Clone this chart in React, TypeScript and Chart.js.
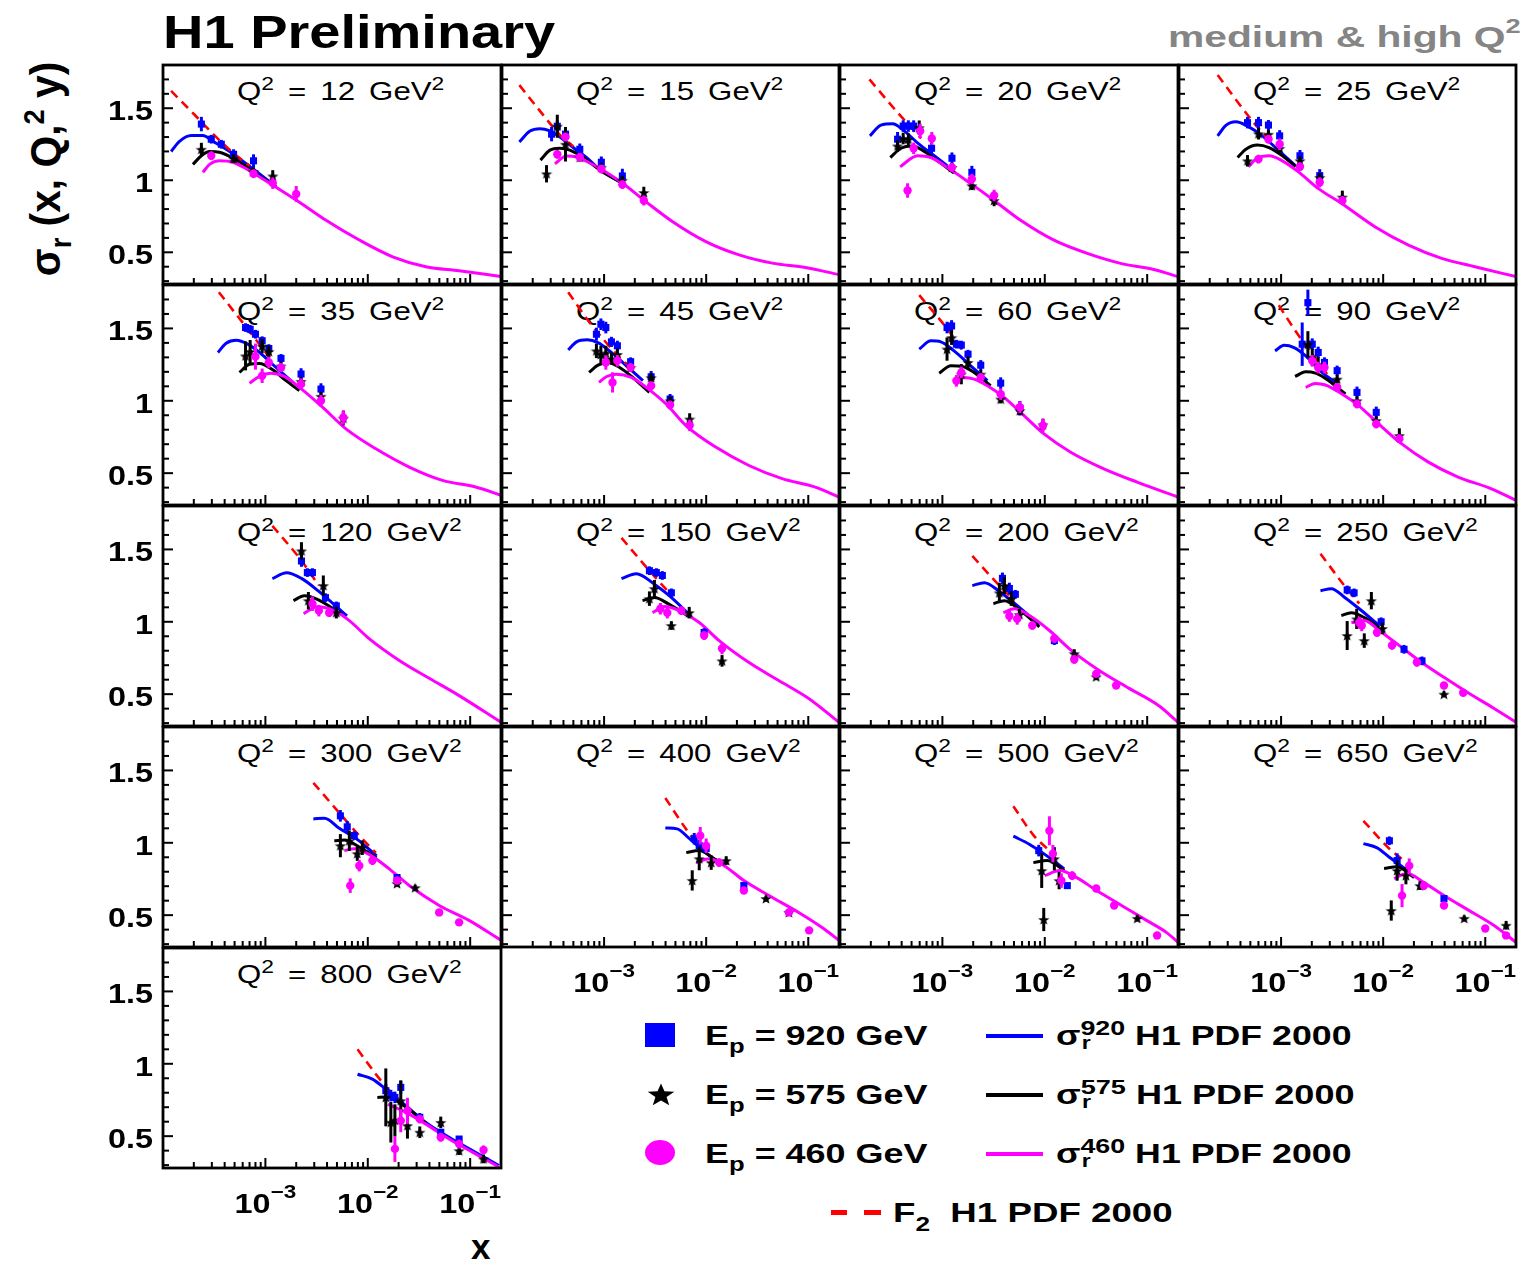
import React, { useEffect, useLayoutEffect, useRef } from "react";
import { Chart, registerables } from "chart.js";

Chart.register(...registerables);

const FONT = "'Liberation Sans', Arial, Helvetica, sans-serif";
const BLUE = "#0000ff";
const BLACK = "#000000";
const MAGENTA = "#ff00ff";
const RED = "#ff0000";

// ---------------- axes ----------------
const X_MIN = 1e-4;
const X_MAX = 0.2;
const Y_MIN = 0.28;
const Y_MAX = 1.8;
const yLabelValues = [0.5, 1, 1.5];
const yLabelTexts = ["0.5", "1", "1.5"];
const yMinorTicks = [0.3, 0.4, 0.6, 0.7, 0.8, 0.9, 1.1, 1.2, 1.3, 1.4, 1.6, 1.7];
const xMajorTicks = [1e-4, 1e-3, 1e-2, 1e-1];
const xMinorMultipliers = [2, 3, 4, 5, 6, 7, 8, 9];
const xLabelValues = [1e-3, 1e-2, 1e-1];
const xLabelExps = ["\u22123", "\u22122", "\u22121"];

const q2Values = [12, 15, 20, 25, 35, 45, 60, 90, 120, 150, 200, 250, 300, 400, 500, 650, 800];

// ---------------- curves: [x, sigma] ----------------
// F2 (red dashed), sigma_r 920 (blue), 575 (black), 460 (magenta)
const f2_12 = [[1.2e-4, 1.62], [2.0e-4, 1.46], [3.0e-4, 1.33], [4.5e-4, 1.21], [7.0e-4, 1.1]];
const s920_12 = [[1.2e-4, 1.2], [1.45e-4, 1.27], [1.89e-4, 1.31], [2.45e-4, 1.31], [3.07e-4, 1.27], [4.14e-4, 1.215], [5.58e-4, 1.15], [7.53e-4, 1.08], [1.27e-3, 0.955]];
const s575_12 = [[1.96e-4, 1.11], [2.37e-4, 1.17], [2.85e-4, 1.2], [3.56e-4, 1.195], [4.81e-4, 1.155], [6.49e-4, 1.095], [8.75e-4, 1.03], [1.27e-3, 0.953]];
const s460_12 = [[2.45e-4, 1.055], [2.85e-4, 1.11], [3.56e-4, 1.135], [4.81e-4, 1.125], [6.49e-4, 1.08], [8.75e-4, 1.025], [1.27e-3, 0.952], [2.15e-3, 0.848], [3.91e-3, 0.722], [8.26e-3, 0.585], [1.75e-2, 0.469], [3.69e-2, 0.4], [7.8e-2, 0.372], [0.2, 0.332]];

const f2_15 = [[1.48e-4, 1.66], [2.36e-4, 1.48], [3.69e-4, 1.315], [5.0e-4, 1.235]];
const s920_15 = [[1.48e-4, 1.266], [1.88e-4, 1.342], [2.36e-4, 1.358], [2.95e-4, 1.342], [3.69e-4, 1.3], [4.98e-4, 1.227], [6.71e-4, 1.158], [9.06e-4, 1.075], [1.53e-3, 0.977]];
const s575_15 = [[2.38e-4, 1.14], [2.95e-4, 1.209], [3.69e-4, 1.223], [4.62e-4, 1.209], [6.24e-4, 1.158], [9.06e-4, 1.071], [1.53e-3, 0.977]];
const s460_15 = [[3.3e-4, 1.115], [4.29e-4, 1.168], [5.37e-4, 1.161], [7.24e-4, 1.12], [9.77e-4, 1.069], [1.53e-3, 0.977], [2.58e-3, 0.85], [4.7e-3, 0.712], [9.93e-3, 0.574], [2.1e-2, 0.482], [4.44e-2, 0.425], [9.35e-2, 0.395], [0.2, 0.345]];

const f2_20 = [[1.94e-4, 1.7], [3.65e-4, 1.47], [6.2e-4, 1.29]];
const s920_20 = [[1.96e-4, 1.308], [2.51e-4, 1.383], [3.27e-4, 1.392], [4.07e-4, 1.353], [5.71e-4, 1.26], [8.32e-4, 1.17], [1.12e-3, 1.1]];
const s575_20 = [[3.1e-4, 1.158], [3.94e-4, 1.222], [5.11e-4, 1.238], [6.64e-4, 1.2], [8.95e-4, 1.135], [1.3e-3, 1.05]];
const s460_20 = [[3.87e-4, 1.094], [5.71e-4, 1.17], [7.71e-4, 1.158], [1.12e-3, 1.089], [1.91e-3, 0.975], [3.2e-3, 0.86], [5.81e-3, 0.722], [1.23e-2, 0.584], [2.6e-2, 0.492], [5.5e-2, 0.423], [0.116, 0.381], [0.2, 0.331]];

const f2_25 = [[2.39e-4, 1.73], [5.25e-4, 1.41], [8.5e-4, 1.24]];
const s920_25 = [[2.39e-4, 1.308], [2.88e-4, 1.381], [3.61e-4, 1.406], [4.69e-4, 1.376], [6.56e-4, 1.308], [9.55e-4, 1.204], [1.39e-3, 1.1]];
const s575_25 = [[3.75e-4, 1.158], [4.52e-4, 1.216], [5.87e-4, 1.245], [7.62e-4, 1.227], [1.03e-3, 1.17], [1.39e-3, 1.094]];
const s460_25 = [[4.8e-4, 1.094], [5.87e-4, 1.154], [7.62e-4, 1.17], [1.03e-3, 1.135], [1.5e-3, 1.055], [2.34e-3, 0.94], [3.95e-3, 0.837], [8.36e-3, 0.676], [1.77e-2, 0.55], [3.74e-2, 0.458], [7.91e-2, 0.4], [0.2, 0.331]];

const f2_35 = [[3.51e-4, 1.75], [6.0e-4, 1.54], [1.1e-3, 1.3]];
const s920_35 = [[3.44e-4, 1.334], [4.14e-4, 1.398], [5.19e-4, 1.418], [6.73e-4, 1.391], [8.75e-4, 1.334], [1.27e-3, 1.23], [1.85e-3, 1.127]];
const s575_35 = [[5.58e-4, 1.196], [7.0e-4, 1.253], [8.75e-4, 1.258], [1.18e-3, 1.214], [1.59e-3, 1.139], [2.15e-3, 1.07]];
const s460_35 = [[7.0e-4, 1.122], [8.75e-4, 1.168], [1.14e-3, 1.191], [1.53e-3, 1.168], [2.15e-3, 1.093], [3.63e-3, 0.955], [6.12e-3, 0.806], [1.2e-2, 0.668], [2.54e-2, 0.542], [5.36e-2, 0.45], [0.113, 0.404], [0.2, 0.347]];

const f2_45 = [[4.45e-4, 1.75], [7.24e-4, 1.54], [1.42e-3, 1.3], [1.8e-3, 1.235]];
const s920_45 = [[4.45e-4, 1.352], [5.37e-4, 1.407], [6.82e-4, 1.421], [8.71e-4, 1.402], [1.13e-3, 1.345], [1.65e-3, 1.242], [2.4e-3, 1.139]];
const s575_45 = [[7.13e-4, 1.196], [8.71e-4, 1.246], [1.09e-3, 1.265], [1.42e-3, 1.23], [1.91e-3, 1.161], [2.78e-3, 1.058]];
const s460_45 = [[8.91e-4, 1.127], [1.05e-3, 1.166], [1.32e-3, 1.184], [1.85e-3, 1.161], [2.58e-3, 1.093], [4.05e-3, 0.978], [6.34e-3, 0.829], [1.24e-2, 0.68], [2.62e-2, 0.553], [5.55e-2, 0.462], [0.117, 0.404], [0.2, 0.335]];

const f2_60 = [[5.94e-4, 1.73], [1.12e-3, 1.495], [1.8e-3, 1.29]];
const s920_60 = [[5.94e-4, 1.357], [7.73e-4, 1.414], [9.66e-4, 1.407], [1.3e-3, 1.345], [1.89e-3, 1.242], [2.75e-3, 1.139]];
const s575_60 = [[9.31e-4, 1.191], [1.21e-3, 1.242], [1.57e-3, 1.237], [2.04e-3, 1.196], [2.96e-3, 1.104]];
const s460_60 = [[1.3e-3, 1.139], [1.63e-3, 1.161], [2.04e-3, 1.15], [2.75e-3, 1.104], [4.0e-3, 1.024], [6.27e-3, 0.898], [9.82e-3, 0.771], [1.79e-2, 0.645], [3.78e-2, 0.53], [7.98e-2, 0.438], [0.2, 0.335]];

const f2_90 = [[9.5e-4, 1.66], [1.39e-3, 1.48], [2.93e-3, 1.17]];
const s920_90 = [[8.73e-4, 1.345], [1.07e-3, 1.384], [1.34e-3, 1.368], [1.74e-3, 1.311], [2.52e-3, 1.196], [3.41e-3, 1.127]];
const s575_90 = [[1.37e-3, 1.168], [1.74e-3, 1.2], [2.17e-3, 1.191], [2.93e-3, 1.139], [4.27e-3, 1.047]];
const s460_90 = [[1.74e-3, 1.093], [2.17e-3, 1.12], [2.72e-3, 1.109], [3.95e-3, 1.047], [5.75e-3, 0.967], [9.02e-3, 0.84], [1.52e-2, 0.702], [2.77e-2, 0.576], [5.42e-2, 0.473], [0.115, 0.392], [0.2, 0.312]];

const f2_120 = [[1.17e-3, 1.663], [2.15e-3, 1.44], [3.33e-3, 1.25]];
const s920_120 = [[1.17e-3, 1.298], [1.61e-3, 1.339], [2.25e-3, 1.3], [3.33e-3, 1.21], [6.25e-3, 1.04]];
const s575_120 = [[1.88e-3, 1.146], [2.4e-3, 1.18], [3.33e-3, 1.15], [5.58e-3, 1.05]];
const s460_120 = [[2.36e-3, 1.056], [3.22e-3, 1.104], [4.71e-3, 1.077], [6.6e-3, 1.008], [1.03e-2, 0.884], [2.03e-2, 0.733], [3.98e-2, 0.61], [7.8e-2, 0.49], [0.2, 0.306]];

const f2_150 = [[1.48e-3, 1.58], [2.78e-3, 1.353], [4.16e-3, 1.215]];
const s920_150 = [[1.48e-3, 1.298], [2.07e-3, 1.332], [3.11e-3, 1.26], [4.35e-3, 1.18], [6.82e-3, 1.05]];
const s575_150 = [[2.38e-3, 1.146], [3.11e-3, 1.167], [4.35e-3, 1.12], [6.82e-3, 1.035]];
const s460_150 = [[2.98e-3, 1.063], [3.9e-3, 1.105], [5.46e-3, 1.077], [8.55e-3, 0.995], [1.34e-2, 0.87], [2.63e-2, 0.718], [5.14e-2, 0.594], [0.101, 0.47], [0.2, 0.305]];

const f2_200 = [[1.96e-3, 1.456], [3.6e-3, 1.25], [5.05e-3, 1.146]];
const s920_200 = [[1.96e-3, 1.25], [2.57e-3, 1.27], [3.6e-3, 1.21], [5.64e-3, 1.1], [8.85e-3, 0.98]];
const s575_200 = [[3.15e-3, 1.125], [4.03e-3, 1.146], [5.64e-3, 1.085], [8.85e-3, 0.965]];
const s460_200 = [[3.94e-3, 1.063], [5.05e-3, 1.09], [7.06e-3, 1.043], [1.11e-2, 0.94], [1.73e-2, 0.815], [3.4e-2, 0.664], [6.67e-2, 0.54], [0.13, 0.42], [0.2, 0.306]];

const f2_250 = [[2.43e-3, 1.47], [4.17e-3, 1.25], [5.83e-3, 1.125]];
const s920_250 = [[2.43e-3, 1.215], [3.11e-3, 1.229], [4.17e-3, 1.17], [5.83e-3, 1.09], [9.14e-3, 0.974]];
const s575_250 = [[3.89e-3, 1.043], [4.88e-3, 1.063], [6.53e-3, 1.029], [9.14e-3, 0.96]];
const s460_250 = [[4.88e-3, 0.995], [6.53e-3, 1.009], [9.14e-3, 0.94], [1.43e-2, 0.837], [2.24e-2, 0.733], [3.94e-2, 0.616], [6.9e-2, 0.506], [0.121, 0.403], [0.2, 0.306]];

const f2_300 = [[2.94e-3, 1.414], [5.27e-3, 1.207], [8.0e-3, 1.06], [1.2e-2, 0.93]];
const s920_300 = [[2.94e-3, 1.165], [3.77e-3, 1.17], [5.27e-3, 1.1], [8.0e-3, 1.02], [1.22e-2, 0.91]];
const s575_300 = [[4.71e-3, 1.014], [5.9e-3, 1.02], [8.26e-3, 0.97], [1.22e-2, 0.895]];
const s460_300 = [[5.9e-3, 0.946], [7.38e-3, 0.959], [1.03e-2, 0.92], [1.62e-2, 0.82], [2.54e-2, 0.705], [4.98e-2, 0.567], [9.75e-2, 0.464], [0.2, 0.326]];

const f2_400 = [[3.98e-3, 1.31], [6.53e-3, 1.083], [8.55e-3, 0.98]];
const s920_400 = [[3.98e-3, 1.103], [5.2e-3, 1.096], [6.82e-3, 1.03], [9.55e-3, 0.94], [1.34e-2, 0.863]];
const s575_400 = [[6.38e-3, 0.932], [8.55e-3, 0.946], [1.2e-2, 0.89], [1.5e-2, 0.85]];
const s460_400 = [[7.98e-3, 0.863], [1.07e-2, 0.89], [1.5e-2, 0.842], [2.34e-2, 0.739], [4.11e-2, 0.636], [8.05e-2, 0.519], [0.141, 0.408], [0.2, 0.326]];

const f2_500 = [[4.93e-3, 1.253], [7.89e-3, 1.046], [1.11e-2, 0.946]];
const s920_500 = [[4.93e-3, 1.046], [7.06e-3, 0.99], [1.0e-2, 0.92], [1.55e-2, 0.82]];
const s575_500 = [[7.73e-3, 0.863], [1.06e-2, 0.877], [1.55e-2, 0.808]];
const s460_500 = [[1.0e-2, 0.773], [1.4e-2, 0.808], [2.05e-2, 0.759], [3.21e-2, 0.67], [5.62e-2, 0.567], [9.84e-2, 0.464], [0.154, 0.381], [0.2, 0.312]];

const f2_650 = [[6.4e-3, 1.152], [1.15e-2, 0.959], [1.6e-2, 0.877]];
const s920_650 = [[6.4e-3, 0.994], [8.73e-3, 0.965], [1.15e-2, 0.9], [1.8e-2, 0.8]];
const s575_650 = [[1.02e-2, 0.822], [1.37e-2, 0.835], [2.01e-2, 0.76]];
const s460_650 = [[1.28e-2, 0.753], [1.71e-2, 0.787], [2.51e-2, 0.725], [3.94e-2, 0.636], [6.9e-2, 0.533], [0.121, 0.43], [0.2, 0.312]];

const f2_800 = [[7.94e-3, 1.1], [1.2e-2, 0.928], [1.7e-2, 0.8], [2.36e-2, 0.715]];
const s920_800 = [[7.94e-3, 0.928], [1.11e-2, 0.894], [1.5e-2, 0.825], [2.36e-2, 0.71], [3.69e-2, 0.595], [6.22e-2, 0.492], [0.105, 0.4], [0.191, 0.297]];
const s575_800 = [[1.24e-2, 0.767], [1.5e-2, 0.77], [2.36e-2, 0.7], [3.69e-2, 0.59]];
const s460_800 = [[1.57e-2, 0.72], [2.36e-2, 0.664], [3.69e-2, 0.583], [6.22e-2, 0.48], [0.105, 0.39], [0.191, 0.287]];

// ---------------- data points: [x, sigma, error] ----------------
const d920_12 = [[2.37e-4, 1.39, 0.05], [2.96e-4, 1.285, 0.03], [3.71e-4, 1.25, 0.03], [4.89e-4, 1.18, 0.035], [7.66e-4, 1.135, 0.045]];
const d575_12 = [[2.37e-4, 1.215, 0.045], [4.89e-4, 1.15, 0.03], [7.66e-4, 1.06, 0.03], [1.18e-3, 1.03, 0.04]];
const d460_12 = [[2.96e-4, 1.17, 0.03], [7.66e-4, 1.045, 0.03], [1.18e-3, 0.98, 0.04], [2.0e-3, 0.905, 0.055]];

const d920_15 = [[3.06e-4, 1.32, 0.05], [3.48e-4, 1.375, 0.04], [4.19e-4, 1.32, 0.04], [5.78e-4, 1.215, 0.04], [9.4e-4, 1.125, 0.04], [1.51e-3, 1.03, 0.05]];
const d575_15 = [[2.73e-4, 1.045, 0.06], [3.48e-4, 1.375, 0.08], [4.19e-4, 1.25, 0.12], [5.78e-4, 1.16, 0.03], [9.4e-4, 1.09, 0.03], [1.51e-3, 1.0, 0.03], [2.45e-3, 0.915, 0.04]];
const d460_15 = [[3.48e-4, 1.18, 0.03], [4.19e-4, 1.3, 0.03], [5.78e-4, 1.16, 0.03], [9.4e-4, 1.078, 0.03], [1.51e-3, 0.97, 0.03], [2.45e-3, 0.86, 0.035]];

const d920_20 = [[3.65e-4, 1.285, 0.05], [4.14e-4, 1.376, 0.04], [4.65e-4, 1.376, 0.04], [5.24e-4, 1.376, 0.04], [7.84e-4, 1.222, 0.04], [1.24e-3, 1.153, 0.04], [1.94e-3, 1.055, 0.045]];
const d575_20 = [[3.65e-4, 1.238, 0.04], [4.14e-4, 1.29, 0.04], [4.65e-4, 1.285, 0.04], [5.94e-4, 1.365, 0.05], [1.24e-3, 1.089, 0.03], [1.94e-3, 0.962, 0.03], [3.2e-3, 0.86, 0.04]];
const d460_20 = [[4.57e-4, 0.929, 0.05], [5.24e-4, 1.222, 0.04], [6.07e-4, 1.342, 0.05], [7.88e-4, 1.29, 0.045], [1.24e-3, 1.089, 0.03], [1.94e-3, 1.009, 0.035], [3.2e-3, 0.894, 0.04]];

const d920_25 = [[4.69e-4, 1.4, 0.04], [6.01e-4, 1.4, 0.04], [7.52e-4, 1.383, 0.035], [9.68e-4, 1.308, 0.04], [1.53e-3, 1.17, 0.04], [2.39e-3, 1.032, 0.045]];
const d575_25 = [[4.69e-4, 1.135, 0.04], [6.01e-4, 1.323, 0.04], [7.52e-4, 1.319, 0.03], [9.68e-4, 1.222, 0.03], [1.53e-3, 1.135, 0.03], [2.39e-3, 1.02, 0.03], [3.98e-3, 0.883, 0.045]];
const d460_25 = [[6.01e-4, 1.147, 0.03], [7.52e-4, 1.285, 0.03], [9.68e-4, 1.25, 0.04], [1.53e-3, 1.094, 0.03], [2.39e-3, 0.986, 0.035], [3.98e-3, 0.86, 0.03]];

const d920_35 = [[6.4e-4, 1.506, 0.03], [7.1e-4, 1.494, 0.03], [8.0e-4, 1.46, 0.03], [9.3e-4, 1.415, 0.03], [1.08e-3, 1.361, 0.03], [1.42e-3, 1.293, 0.03], [2.23e-3, 1.185, 0.04], [3.49e-3, 1.081, 0.04]];
const d575_35 = [[6.4e-4, 1.31, 0.1], [7.1e-4, 1.34, 0.08], [9.3e-4, 1.378, 0.05], [1.08e-3, 1.34, 0.04], [1.42e-3, 1.24, 0.03], [2.23e-3, 1.134, 0.03], [3.49e-3, 1.031, 0.03], [5.77e-3, 0.88, 0.05]];
const d460_35 = [[8.0e-4, 1.305, 0.09], [9.3e-4, 1.173, 0.05], [1.08e-3, 1.265, 0.04], [1.42e-3, 1.23, 0.03], [2.23e-3, 1.115, 0.04], [3.49e-3, 1.0, 0.04], [5.77e-3, 0.885, 0.05]];

const d920_45 = [[8.41e-4, 1.46, 0.045], [9.3e-4, 1.529, 0.04], [1.04e-3, 1.506, 0.04], [1.18e-3, 1.407, 0.035], [1.35e-3, 1.38, 0.035], [1.82e-3, 1.27, 0.03], [2.89e-3, 1.166, 0.04], [4.43e-3, 1.012, 0.035]];
const d575_45 = [[8.41e-4, 1.345, 0.05], [9.3e-4, 1.32, 0.06], [1.04e-3, 1.33, 0.05], [1.18e-3, 1.29, 0.04], [1.35e-3, 1.32, 0.04], [1.82e-3, 1.23, 0.03], [2.89e-3, 1.16, 0.03], [4.43e-3, 1.0, 0.03], [6.89e-3, 0.874, 0.04]];
const d460_45 = [[1.04e-3, 1.265, 0.05], [1.21e-3, 1.127, 0.07], [1.35e-3, 1.276, 0.04], [1.82e-3, 1.23, 0.03], [2.89e-3, 1.104, 0.03], [4.43e-3, 0.971, 0.03], [6.89e-3, 0.83, 0.04]];

const d920_60 = [[1.11e-3, 1.506, 0.04], [1.23e-3, 1.517, 0.04], [1.37e-3, 1.391, 0.03], [1.53e-3, 1.385, 0.03], [1.78e-3, 1.322, 0.03], [2.37e-3, 1.246, 0.035], [3.71e-3, 1.122, 0.04], [5.71e-3, 0.948, 0.05]];
const d575_60 = [[1.11e-3, 1.357, 0.08], [1.23e-3, 1.436, 0.05], [1.53e-3, 1.184, 0.07], [1.78e-3, 1.265, 0.04], [2.37e-3, 1.184, 0.03], [3.71e-3, 1.012, 0.03], [5.71e-3, 0.932, 0.03], [9.6e-3, 0.834, 0.04]];
const d460_60 = [[1.37e-3, 1.138, 0.04], [1.53e-3, 1.196, 0.04], [2.37e-3, 1.161, 0.03], [3.71e-3, 1.046, 0.04], [5.71e-3, 0.955, 0.04], [9.6e-3, 0.829, 0.05]];

const d920_90 = [[1.61e-3, 1.391, 0.15], [1.83e-3, 1.678, 0.09], [2.02e-3, 1.391, 0.04], [2.31e-3, 1.334, 0.04], [2.66e-3, 1.265, 0.035], [3.54e-3, 1.208, 0.035], [5.54e-3, 1.058, 0.04], [8.55e-3, 0.92, 0.04]];
const d575_90 = [[1.83e-3, 1.391, 0.09], [2.02e-3, 1.3, 0.06], [2.31e-3, 1.25, 0.05], [3.54e-3, 1.15, 0.03], [5.54e-3, 1.0, 0.03], [8.55e-3, 0.863, 0.03], [1.44e-2, 0.76, 0.05]];
const d460_90 = [[2.02e-3, 1.276, 0.04], [2.31e-3, 1.23, 0.04], [2.66e-3, 1.23, 0.04], [3.54e-3, 1.093, 0.03], [5.54e-3, 0.978, 0.03], [8.55e-3, 0.84, 0.03], [1.44e-2, 0.738, 0.03]];

const d920_120 = [[2.25e-3, 1.42, 0.04], [2.57e-3, 1.34, 0.03], [2.88e-3, 1.34, 0.03], [3.86e-3, 1.167, 0.03], [4.93e-3, 1.11, 0.03]];
const d575_120 = [[2.25e-3, 1.49, 0.06], [2.63e-3, 1.146, 0.06], [3.68e-3, 1.25, 0.07], [4.93e-3, 1.063, 0.04]];
const d460_120 = [[2.88e-3, 1.125, 0.05], [3.33e-3, 1.077, 0.04], [4.2e-3, 1.063, 0.03]];

const d920_150 = [[2.78e-3, 1.353, 0.03], [3.25e-3, 1.34, 0.03], [3.72e-3, 1.32, 0.03], [4.56e-3, 1.2, 0.03], [9.55e-3, 0.926, 0.03]];
const d575_150 = [[2.78e-3, 1.16, 0.05], [3.11e-3, 1.229, 0.06], [4.56e-3, 0.974, 0.03], [6.82e-3, 1.063, 0.04], [1.43e-2, 0.73, 0.04]];
const d460_150 = [[3.56e-3, 1.09, 0.04], [4.16e-3, 1.063, 0.04], [5.7e-3, 1.077, 0.03], [9.55e-3, 0.905, 0.03], [1.43e-2, 0.815, 0.04]];

const d920_200 = [[3.86e-3, 1.3, 0.04], [4.51e-3, 1.23, 0.04], [5.16e-3, 1.19, 0.03], [1.24e-2, 0.87, 0.03]];
const d575_200 = [[3.6e-3, 1.2, 0.07], [4.03e-3, 1.25, 0.06], [4.7e-3, 1.16, 0.05], [5.64e-3, 1.05, 0.04], [1.94e-2, 0.78, 0.03], [3.18e-2, 0.62, 0.02]];
const d460_200 = [[4.51e-3, 1.04, 0.04], [5.38e-3, 1.02, 0.04], [7.55e-3, 0.975, 0.03], [1.24e-2, 0.885, 0.03], [1.94e-2, 0.74, 0.03], [3.18e-2, 0.64, 0.02], [4.98e-2, 0.56, 0.02]];

const d920_250 = [[4.44e-3, 1.22, 0.03], [5.19e-3, 1.2, 0.03], [9.55e-3, 1.0, 0.03], [1.6e-2, 0.81, 0.03], [2.4e-2, 0.73, 0.03]];
const d575_250 = [[4.44e-3, 0.905, 0.1], [5.5e-3, 1.02, 0.07], [6.53e-3, 0.87, 0.05], [7.66e-3, 1.146, 0.06], [9.82e-3, 0.954, 0.04], [3.94e-2, 0.5, 0.02]];
const d460_250 = [[5.83e-3, 0.995, 0.04], [6.17e-3, 0.975, 0.04], [8.7e-3, 0.926, 0.03], [1.22e-2, 0.837, 0.03], [2.14e-2, 0.72, 0.03], [3.94e-2, 0.56, 0.02], [6.08e-2, 0.51, 0.02]];

const d920_300 = [[5.4e-3, 1.186, 0.04], [6.3e-3, 1.11, 0.04], [7.38e-3, 1.05, 0.03], [1.93e-2, 0.76, 0.02]];
const d575_300 = [[5.4e-3, 0.98, 0.08], [6.6e-3, 1.014, 0.07], [7.9e-3, 0.925, 0.05], [8.84e-3, 0.966, 0.05], [1.93e-2, 0.718, 0.02], [2.9e-2, 0.69, 0.02]];
const d460_300 = [[6.74e-3, 0.704, 0.05], [8.26e-3, 0.842, 0.04], [1.11e-2, 0.877, 0.03], [1.93e-2, 0.739, 0.02], [4.98e-2, 0.519, 0.02], [7.8e-2, 0.45, 0.02]];

const d920_400 = [[7.64e-3, 1.028, 0.04], [8.55e-3, 0.98, 0.04], [1.0e-2, 0.96, 0.03], [2.34e-2, 0.705, 0.02]];
const d575_400 = [[7.3e-3, 0.74, 0.07], [8.55e-3, 0.89, 0.08], [1.12e-2, 0.863, 0.05], [1.57e-2, 0.877, 0.03], [3.85e-2, 0.615, 0.02], [6.46e-2, 0.519, 0.02]];
const d460_400 = [[8.75e-3, 1.049, 0.06], [1.0e-2, 0.98, 0.05], [1.34e-2, 0.863, 0.03], [2.34e-2, 0.67, 0.02], [6.46e-2, 0.519, 0.02], [0.102, 0.395, 0.02]];

const d920_500 = [[8.73e-3, 0.946, 0.04], [1.66e-2, 0.704, 0.02]];
const d575_500 = [[9.33e-3, 0.808, 0.12], [9.77e-3, 0.47, 0.08], [1.24e-2, 0.89, 0.08], [1.38e-2, 0.739, 0.06], [8.0e-2, 0.478, 0.02]];
const d460_500 = [[1.11e-2, 1.083, 0.1], [1.2e-2, 0.925, 0.06], [1.45e-2, 0.739, 0.05], [1.85e-2, 0.773, 0.03], [3.18e-2, 0.684, 0.02], [4.76e-2, 0.567, 0.02], [0.125, 0.36, 0.02]];

const d920_650 = [[1.15e-2, 1.014, 0.03], [1.37e-2, 0.877, 0.05], [3.94e-2, 0.615, 0.02]];
const d575_650 = [[1.2e-2, 0.532, 0.07], [1.37e-2, 0.808, 0.07], [1.67e-2, 0.773, 0.06], [2.29e-2, 0.704, 0.03], [6.22e-2, 0.478, 0.02], [0.16, 0.43, 0.03]];
const d460_650 = [[1.53e-2, 0.635, 0.08], [1.8e-2, 0.842, 0.05], [2.51e-2, 0.704, 0.03], [3.94e-2, 0.567, 0.02], [0.1, 0.408, 0.02], [0.16, 0.36, 0.02]];

const d920_800 = [[1.5e-2, 0.814, 0.046], [1.68e-2, 0.78, 0.04], [1.84e-2, 0.768, 0.04], [2.1e-2, 0.837, 0.046], [3.22e-2, 0.63, 0.03], [5.16e-2, 0.527, 0.02], [7.8e-2, 0.48, 0.02]];
const d575_800 = [[1.5e-2, 0.768, 0.2], [1.68e-2, 0.596, 0.14], [1.84e-2, 0.61, 0.11], [2.1e-2, 0.745, 0.14], [2.44e-2, 0.573, 0.09], [3.22e-2, 0.527, 0.04], [5.16e-2, 0.595, 0.04], [7.8e-2, 0.4, 0.03], [0.135, 0.343, 0.03]];
const d460_800 = [[1.84e-2, 0.412, 0.09], [2.1e-2, 0.607, 0.08], [2.44e-2, 0.675, 0.09], [3.22e-2, 0.618, 0.03], [5.16e-2, 0.492, 0.03], [7.8e-2, 0.446, 0.03], [0.135, 0.405, 0.03]];

const panelCurves = [
  [f2_12, s920_12, s575_12, s460_12], [f2_15, s920_15, s575_15, s460_15], [f2_20, s920_20, s575_20, s460_20], [f2_25, s920_25, s575_25, s460_25],
  [f2_35, s920_35, s575_35, s460_35], [f2_45, s920_45, s575_45, s460_45], [f2_60, s920_60, s575_60, s460_60], [f2_90, s920_90, s575_90, s460_90],
  [f2_120, s920_120, s575_120, s460_120], [f2_150, s920_150, s575_150, s460_150], [f2_200, s920_200, s575_200, s460_200], [f2_250, s920_250, s575_250, s460_250],
  [f2_300, s920_300, s575_300, s460_300], [f2_400, s920_400, s575_400, s460_400], [f2_500, s920_500, s575_500, s460_500], [f2_650, s920_650, s575_650, s460_650],
  [f2_800, s920_800, s575_800, s460_800],
];
const panelPoints = [
  [d920_12, d575_12, d460_12], [d920_15, d575_15, d460_15], [d920_20, d575_20, d460_20], [d920_25, d575_25, d460_25],
  [d920_35, d575_35, d460_35], [d920_45, d575_45, d460_45], [d920_60, d575_60, d460_60], [d920_90, d575_90, d460_90],
  [d920_120, d575_120, d460_120], [d920_150, d575_150, d460_150], [d920_200, d575_200, d460_200], [d920_250, d575_250, d460_250],
  [d920_300, d575_300, d460_300], [d920_400, d575_400, d460_400], [d920_500, d575_500, d460_500], [d920_650, d575_650, d460_650],
  [d920_800, d575_800, d460_800],
];

// ---------------- layout ----------------
const colEdges = [163, 502, 840, 1179, 1517];
const rowEdges = [64, 284, 505, 726, 947, 1168];
const PADL = 62, PADR = 4, PADT = 4, PADB = 54;
const showXPanels = [13, 14, 15, 16];

function makeStar(w: number, h: number, color: string) {
  const c = document.createElement("canvas");
  c.width = w;
  c.height = h;
  const g = c.getContext("2d")!;
  g.fillStyle = color;
  g.translate(w / 2, h / 2 + h * 0.06);
  g.scale(w / h, 1);
  const R = h / 2;
  const r = R * 0.42;
  g.beginPath();
  for (let i = 0; i < 10; i++) {
    const ang = -Math.PI / 2 + (i * Math.PI) / 5;
    const rad = i % 2 === 0 ? R : r;
    g.lineTo(rad * Math.cos(ang), rad * Math.sin(ang));
  }
  g.closePath();
  g.fill();
  return c;
}

function line(ctx: CanvasRenderingContext2D, x1: number, y1: number, x2: number, y2: number) {
  ctx.beginPath();
  ctx.moveTo(x1, y1);
  ctx.lineTo(x2, y2);
  ctx.stroke();
}

const decorPlugin = {
  id: "decor",
  beforeDatasetDraw(chart: any, args: any) {
    const ds = chart.data.datasets[args.index];
    if (!ds.errColor) return;
    const { ctx, chartArea: a } = chart;
    const ys = chart.scales.y;
    ctx.save();
    ctx.beginPath();
    ctx.rect(a.left, a.top, a.right - a.left, a.bottom - a.top);
    ctx.clip();
    ctx.strokeStyle = ds.errColor;
    ctx.lineWidth = 3;
    args.meta.data.forEach((el: any, i: number) => {
      const d = ds.data[i];
      line(ctx, el.x, ys.getPixelForValue(d.y - d.e), el.x, ys.getPixelForValue(d.y + d.e));
    });
    ctx.restore();
  },
  afterDraw(chart: any, _args: any, opts: any) {
    const { ctx, chartArea: a } = chart;
    const xs = chart.scales.x;
    const ys = chart.scales.y;
    ctx.save();
    ctx.strokeStyle = "#000";
    ctx.lineWidth = 2;
    for (const v of yLabelValues) {
      const p = ys.getPixelForValue(v);
      line(ctx, a.left, p, a.left + 10, p);
    }
    for (const v of yMinorTicks) {
      const p = ys.getPixelForValue(v);
      line(ctx, a.left, p, a.left + 6, p);
    }
    for (const d of xMajorTicks) {
      const p = xs.getPixelForValue(d);
      line(ctx, p, a.bottom, p, a.bottom - 10);
      for (const m of xMinorMultipliers) {
        const v = d * m;
        if (v >= X_MAX) continue;
        const q = xs.getPixelForValue(v);
        line(ctx, q, a.bottom, q, a.bottom - 6);
      }
    }
    ctx.lineWidth = 2.8;
    ctx.strokeRect(a.left, a.top, a.right - a.left, a.bottom - a.top);
    ctx.fillStyle = "#000";
    ctx.textBaseline = "alphabetic";
    if (opts.showY) {
      ctx.font = `bold 27px ${FONT}`;
      ctx.textAlign = "right";
      yLabelValues.forEach((v, i) => {
        const p = ys.getPixelForValue(v);
        ctx.save();
        ctx.translate(a.left - 10, p + 12);
        ctx.scale(1.2, 1);
        ctx.fillText(yLabelTexts[i], 0, 0);
        ctx.restore();
      });
    }
    if (opts.showX) {
      ctx.textAlign = "left";
      xLabelValues.forEach((v, i) => {
        const p = xs.getPixelForValue(v);
        ctx.font = `bold 27px ${FONT}`;
        const w1 = ctx.measureText("10").width * 1.2;
        ctx.font = `bold 18px ${FONT}`;
        const w2 = ctx.measureText(xLabelExps[i]).width * 1.25;
        const x0 = p - (w1 + w2) / 2;
        const base = a.bottom + 45;
        ctx.save();
        ctx.font = `bold 27px ${FONT}`;
        ctx.translate(x0, base);
        ctx.scale(1.2, 1);
        ctx.fillText("10", 0, 0);
        ctx.restore();
        ctx.save();
        ctx.font = `bold 18px ${FONT}`;
        ctx.translate(x0 + w1, base - 15);
        ctx.scale(1.25, 1);
        ctx.fillText(xLabelExps[i], 0, 0);
        ctx.restore();
      });
    }
    ctx.restore();
  },
};

const toXY = (arr: number[][]) => arr.map((p) => ({ x: p[0], y: p[1] }));
const toXYE = (arr: number[][]) => arr.map((p) => ({ x: p[0], y: p[1], e: p[2] }));

function Panel({ idx }: { idx: number }) {
  const ref = useRef<HTMLCanvasElement>(null);
  const col = idx % 4;
  const row = Math.floor(idx / 4);
  const L = colEdges[col];
  const R = colEdges[col + 1];
  const T = rowEdges[row];
  const B = rowEdges[row + 1];
  const W = R - L + PADL + PADR;
  const H = B - T + PADT + PADB;
  useEffect(() => {
    const [f2, c920, c575, c460] = panelCurves[idx];
    const [p920, p575, p460] = panelPoints[idx];
    const star = makeStar(12, 11, BLACK);
    const curve = (data: number[][], color: string, order: number, dash?: number[]) => ({
      data: toXY(data),
      showLine: true,
      borderColor: color,
      borderWidth: dash ? 2.6 : 3,
      borderDash: dash || [],
      pointRadius: 0,
      cubicInterpolationMode: "monotone",
      fill: false,
      order,
    });
    const chart = new Chart(ref.current!, {
      type: "scatter",
      data: {
        datasets: [
          { data: toXYE(p460), pointStyle: "circle", pointRadius: 4.2, backgroundColor: MAGENTA, borderColor: MAGENTA, borderWidth: 0, errColor: MAGENTA, order: 0 } as any,
          { data: toXYE(p575), pointStyle: star, pointRadius: 4, backgroundColor: BLACK, borderColor: BLACK, borderWidth: 0, errColor: BLACK, order: 1 } as any,
          { data: toXYE(p920), pointStyle: "rect", pointRadius: 5, backgroundColor: BLUE, borderColor: BLUE, borderWidth: 0, errColor: BLUE, order: 2 } as any,
          curve(f2, RED, 3, [9, 6]),
          curve(c460, MAGENTA, 4),
          curve(c575, BLACK, 5),
          curve(c920, BLUE, 6),
        ],
      },
      options: {
        responsive: false,
        animation: false,
        events: [],
        layout: { padding: { left: PADL, right: PADR, top: PADT, bottom: PADB } },
        plugins: {
          legend: { display: false },
          tooltip: { enabled: false },
          decor: { showX: showXPanels.includes(idx), showY: col === 0 },
        } as any,
        scales: {
          x: { type: "logarithmic", min: X_MIN, max: X_MAX, display: false },
          y: { type: "linear", min: Y_MIN, max: Y_MAX, display: false },
        },
      },
      plugins: [decorPlugin as any],
    } as any);
    return () => chart.destroy();
  }, [idx]);
  return (
    <canvas
      ref={ref}
      width={W}
      height={H}
      style={{ position: "absolute", left: L - PADL, top: T - PADT, width: W, height: H }}
    />
  );
}

type TxtProps = {
  left: number;
  baseline: number;
  fs: number;
  bold?: boolean;
  color?: string;
  width?: number;
  sx?: number;
  ws?: number;
  children: React.ReactNode;
};

function Txt({ left, baseline, fs, bold, color = "#000", width, sx = 1, ws = 0, children }: TxtProps) {
  const ref = useRef<HTMLDivElement>(null);
  useLayoutEffect(() => {
    const el = ref.current;
    if (!el) return;
    const s = width ? width / el.offsetWidth : sx;
    el.style.transform = `scaleX(${s})`;
  }, [width, sx]);
  return (
    <div
      ref={ref}
      style={{
        position: "absolute",
        left,
        top: baseline - 0.8465 * fs,
        fontFamily: FONT,
        fontSize: fs,
        fontWeight: bold ? "bold" : "normal",
        color,
        lineHeight: 1,
        whiteSpace: "pre",
        wordSpacing: ws,
        transformOrigin: "0 0",
      }}
    >
      {children}
    </div>
  );
}

const Shift = ({ fs, dy, children }: { fs: number; dy: number; children: React.ReactNode }) => (
  <span style={{ fontSize: fs, position: "relative", top: dy }}>{children}</span>
);

function SupSub({ sup, sub }: { sup: string; sub: string }) {
  return (
    <span style={{ position: "relative", display: "inline-block" }}>
      <span style={{ fontSize: 21, position: "relative", top: -10 }}>{sup}</span>
      <span style={{ fontSize: 18, position: "absolute", left: 1, top: 11.5 }}>{sub}</span>
    </span>
  );
}

function YTitle() {
  const ref = useRef<HTMLDivElement>(null);
  useLayoutEffect(() => {
    const el = ref.current;
    if (!el) return;
    const s = 214 / el.offsetWidth;
    el.style.transform = `translate(-50%, -50%) rotate(-90deg) scale(${s}, 1.2)`;
  }, []);
  return (
    <div
      ref={ref}
      style={{
        position: "absolute",
        left: 46,
        top: 169,
        fontFamily: FONT,
        fontSize: 36,
        fontWeight: "bold",
        lineHeight: 1,
        whiteSpace: "pre",
      }}
    >
      σ<Shift fs={24} dy={9}>r</Shift> (x, Q,<Shift fs={24} dy={-14}>2</Shift> y)
    </div>
  );
}

function LegendStar({ left, top }: { left: number; top: number }) {
  const ref = useRef<HTMLCanvasElement>(null);
  useEffect(() => {
    const c = ref.current!;
    const g = c.getContext("2d")!;
    g.clearRect(0, 0, c.width, c.height);
    g.drawImage(makeStar(28, 24, BLACK), 0, 0);
  }, []);
  return <canvas ref={ref} width={28} height={24} style={{ position: "absolute", left, top }} />;
}

const legendEnergies = ["920", "575", "460"];
const legendColors = [BLUE, BLACK, MAGENTA];
const legendBaselines = [1046, 1105, 1164];

export default function App() {
  return (
    <div
      style={{
        position: "absolute",
        left: 0,
        top: 0,
        width: 1522,
        height: 1261,
        overflow: "hidden",
        background: "#fff",
      }}
    >
      <Txt left={163} baseline={48.3} fs={46} bold width={392}>
        H1 Preliminary
      </Txt>
      <Txt left={1168} baseline={47} fs={30} bold color="#858585" width={352}>
        medium &amp; high Q<Shift fs={20} dy={-14}>2</Shift>
      </Txt>
      <YTitle />
      <Txt left={471} baseline={1259} fs={35} bold>
        x
      </Txt>

      {q2Values.map((q, i) => {
        const col = i % 4;
        const row = Math.floor(i / 4);
        return (
          <Txt key={"lab" + i} left={colEdges[col] + 73.5} baseline={rowEdges[row] + 36.5} fs={26} sx={1.2} ws={4.5}>
            Q<Shift fs={19} dy={-10}>2</Shift> = {q} GeV<Shift fs={19} dy={-10}>2</Shift>
          </Txt>
        );
      })}

      {q2Values.map((_, i) => (
        <Panel key={"p" + i} idx={i} />
      ))}

      {/* legend */}
      <div style={{ position: "absolute", left: 645, top: 1023, width: 30, height: 24, background: BLUE }} />
      <LegendStar left={647} top={1082} />
      <div style={{ position: "absolute", left: 645, top: 1140, width: 30, height: 25, borderRadius: "50%", background: MAGENTA }} />
      {legendEnergies.map((e, i) => (
        <Txt key={"le" + i} left={705} baseline={legendBaselines[i]} fs={28} bold width={222}>
          E<Shift fs={20} dy={8}>p</Shift> = {e} GeV
        </Txt>
      ))}
      {legendEnergies.map((e, i) => (
        <div
          key={"ll" + i}
          style={{ position: "absolute", left: 986, top: legendBaselines[i] - 12, width: 57, height: 4, background: legendColors[i] }}
        />
      ))}
      {legendEnergies.map((e, i) => (
        <Txt key={"ls" + i} left={1056} baseline={legendBaselines[i]} fs={28} bold width={e === "575" ? 299 : 296}>
          σ<SupSub sup={e} sub="r" /> H1 PDF 2000
        </Txt>
      ))}
      <div style={{ position: "absolute", left: 831, top: 1210, width: 16, height: 5, background: RED }} />
      <div style={{ position: "absolute", left: 864, top: 1210, width: 17, height: 5, background: RED }} />
      <Txt left={893} baseline={1223} fs={28} bold width={279}>
        F<Shift fs={20} dy={9}>2</Shift>{"  "}H1 PDF 2000
      </Txt>
    </div>
  );
}
